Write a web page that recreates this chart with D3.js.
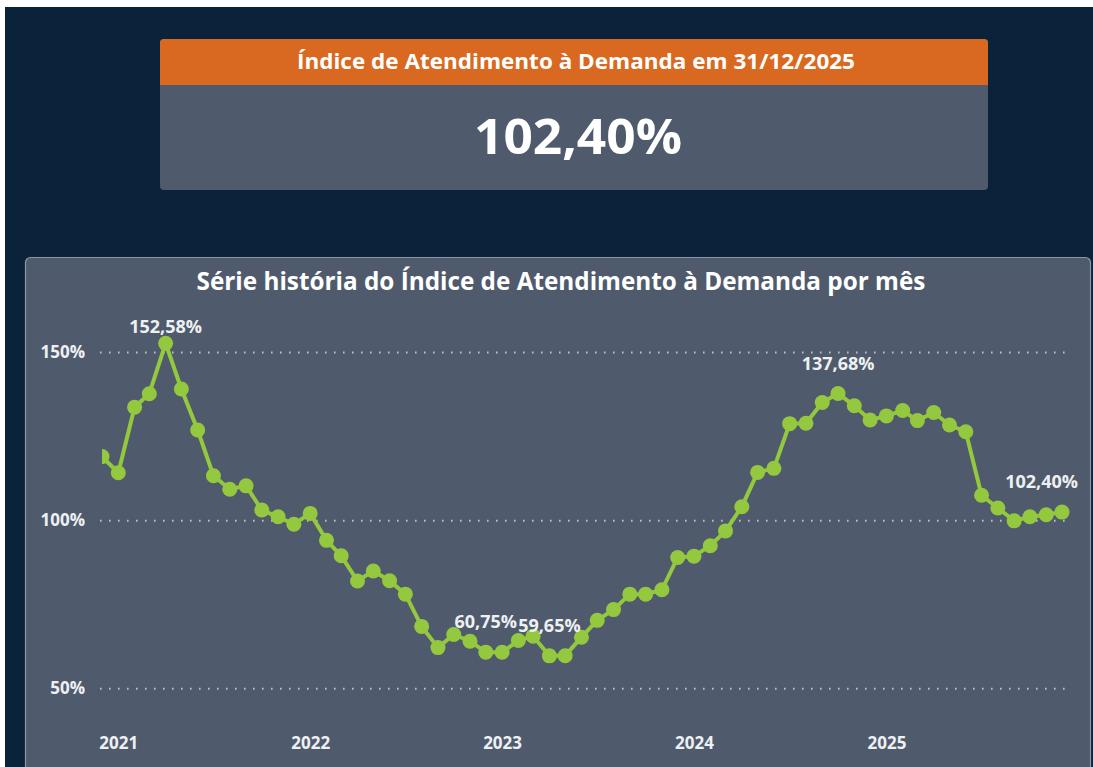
<!DOCTYPE html>
<html>
<head>
<meta charset="utf-8">
<script src="https://cdn.jsdelivr.net/npm/d3@7"></script>
<style>
    body { margin: 0; background: #ffffff; }
    svg { display: block; font-family: "Open Sans", "Noto Sans", sans-serif; }
</style>
</head>
<body>
<div id="chart-area"></div>
<script>

// monthly series, Dec 2020 .. Dec 2025
var startMonth = "2020-12";
var indexValues = [
    118.9,
    114.1, 133.6, 137.6, 152.58, 139.0, 126.8, 113.2, 109.2, 110.2, 103.0, 101.0, 98.8,
    102.0, 94.0, 89.4, 81.9, 84.9, 82.0, 78.0, 68.4, 62.1, 66.0, 64.0, 60.75,
    60.7, 64.2, 65.5, 59.65, 59.7, 65.2, 70.2, 73.4, 78.0, 78.0, 79.3, 88.9,
    89.3, 92.4, 96.8, 104.0, 114.2, 115.4, 128.7, 128.8, 135.0, 137.68, 134.0, 129.8,
    131.0, 132.6, 129.6, 132.0, 128.3, 126.3, 107.4, 103.6, 99.8, 101.0, 101.6, 102.40
];
var labelledPoints = [4, 24, 28, 46, 60];
var yTicks = [50, 100, 150];
var xTickYears = [2021, 2022, 2023, 2024, 2025];

var cardTitle = "Índice de Atendimento à Demanda em 31/12/2025";
var cardValue = "102,40%";
var chartTitle = "Série história do Índice de Atendimento à Demanda por mês";

var pctFormat = function(v) { return d3.format(".2f")(v).replace(".", ",") + "%"; };

LineChart = function(_parentElement, _data){
    this.parentElement = _parentElement;
    this.data = _data;
    this.initVis();
}

LineChart.prototype.initVis = function() {
    var vis = this;

    vis.width = 1093;
    vis.height = 767;

    vis.svg = d3.select("#" + vis.parentElement).append("svg")
        .attr("width", vis.width)
        .attr("height", vis.height);

    // page background
    vis.svg.append("rect")
        .attr("x", 5).attr("y", 7)
        .attr("width", vis.width - 5).attr("height", vis.height - 7)
        .attr("fill", "#0b233a");

    // KPI card
    vis.svg.append("rect")
        .attr("x", 160).attr("y", 39)
        .attr("width", 828).attr("height", 151)
        .attr("rx", 4)
        .attr("fill", "#4f5b6d");
    vis.svg.append("path")
        .attr("d", "M160,85 V43 a4,4 0 0 1 4,-4 H984 a4,4 0 0 1 4,4 V85 Z")
        .attr("fill", "#d96820");
    vis.svg.append("text")
        .attr("x", 576).attr("y", 69)
        .attr("text-anchor", "middle")
        .attr("textLength", 558)
        .attr("lengthAdjust", "spacingAndGlyphs")
        .style("font-size", "21px")
        .style("font-weight", 700)
        .attr("fill", "#ffffff")
        .text(cardTitle);
    vis.svg.append("text")
        .attr("x", 578).attr("y", 154)
        .attr("text-anchor", "middle")
        .attr("textLength", 208)
        .attr("lengthAdjust", "spacingAndGlyphs")
        .style("font-size", "49px")
        .style("font-weight", 700)
        .attr("fill", "#ffffff")
        .text(cardValue);

    // chart panel
    vis.svg.append("rect")
        .attr("x", 25.5).attr("y", 257.5)
        .attr("width", 1065).attr("height", 520)
        .attr("rx", 5)
        .attr("fill", "#4f5b6d")
        .attr("stroke", "#8b95a3")
        .attr("stroke-width", 1.2);

    vis.svg.append("text")
        .attr("x", 561).attr("y", 290)
        .attr("text-anchor", "middle")
        .style("font-size", "24.3px")
        .style("font-weight", 700)
        .attr("fill", "#ffffff")
        .text(chartTitle);

    vis.margin = {left: 102, right: 1062, top: 352, bottom: 688.3};

    vis.x = d3.scaleTime()
        .domain(d3.extent(vis.data, function(d) { return d.date; }))
        .range([vis.margin.left, vis.margin.right]);

    vis.y = d3.scaleLinear()
        .domain([50, 150])
        .range([vis.margin.bottom, vis.margin.top]);

    vis.yAxis = d3.axisLeft(vis.y)
        .tickValues(yTicks)
        .tickSize(-972)
        .tickPadding(15)
        .tickFormat(function(d) { return d + "%"; });

    vis.xAxis = d3.axisBottom(vis.x)
        .tickValues(xTickYears.map(function(yr) { return new Date(yr, 0, 1); }))
        .tickSize(0)
        .tickFormat(d3.timeFormat("%Y"));

    vis.svg.append("g")
        .attr("class", "y-axis axis")
        .attr("transform", "translate(100,0)");

    vis.svg.append("g")
        .attr("class", "x-axis axis")
        .attr("transform", "translate(0,734)");

    vis.svg.append("clipPath")
        .attr("id", "plot-clip")
        .append("rect")
        .attr("x", vis.margin.left).attr("y", 300)
        .attr("width", 985).attr("height", 420);

    vis.plot = vis.svg.append("g")
        .attr("clip-path", "url(#plot-clip)");

    vis.updateVis();
};

LineChart.prototype.updateVis = function() {
    var vis = this;

    vis.svg.select(".y-axis").call(vis.yAxis);
    vis.svg.select(".x-axis").call(vis.xAxis);

    vis.svg.selectAll(".axis .domain").remove();
    vis.svg.selectAll(".y-axis line")
        .attr("stroke", "#b9c0ca")
        .attr("stroke-width", 2)
        .attr("stroke-dasharray", "1.6,7.4")
        .attr("stroke-linecap", "butt");
    vis.svg.selectAll(".axis text")
        .attr("fill", "#eef0f2")
        .style("font-size", "17px")
        .style("font-weight", 700)
        .style("font-family", "'Open Sans', sans-serif");

    var line = d3.line()
        .x(function(d) { return vis.x(d.date); })
        .y(function(d) { return vis.y(d.value); });

    vis.plot.append("path")
        .datum(vis.data)
        .attr("fill", "none")
        .attr("stroke", "#93c83f")
        .attr("stroke-width", 4)
        .attr("d", line);

    vis.plot.selectAll("circle")
        .data(vis.data)
        .enter()
        .append("circle")
        .attr("cx", function(d) { return vis.x(d.date); })
        .attr("cy", function(d) { return vis.y(d.value); })
        .attr("r", 7.5)
        .attr("fill", "#93c83f");

    var last = vis.data.length - 1;
    vis.svg.selectAll(".data-label")
        .data(labelledPoints.map(function(i) { return {i: i, d: vis.data[i]}; }))
        .enter()
        .append("text")
        .attr("class", "data-label")
        .attr("x", function(p) { return p.i === last ? vis.x(p.d.date) + 16 : vis.x(p.d.date); })
        .attr("y", function(p) { return Math.max(vis.y(p.d.value) - 30, 327); })
        .attr("dy", "0.35em")
        .attr("text-anchor", function(p) { return p.i === last ? "end" : "middle"; })
        .style("font-size", "18px")
        .style("font-weight", 700)
        .attr("fill", "#eef0f2")
        .text(function(p) { return pctFormat(p.d.value); });
};

var parseMonth = d3.timeParse("%Y-%m");
var start = parseMonth(startMonth);
var series = indexValues.map(function(v, i) {
    return {date: d3.timeMonth.offset(start, i), value: v};
});

var chart = new LineChart("chart-area", series);

</script>
</body>
</html>
